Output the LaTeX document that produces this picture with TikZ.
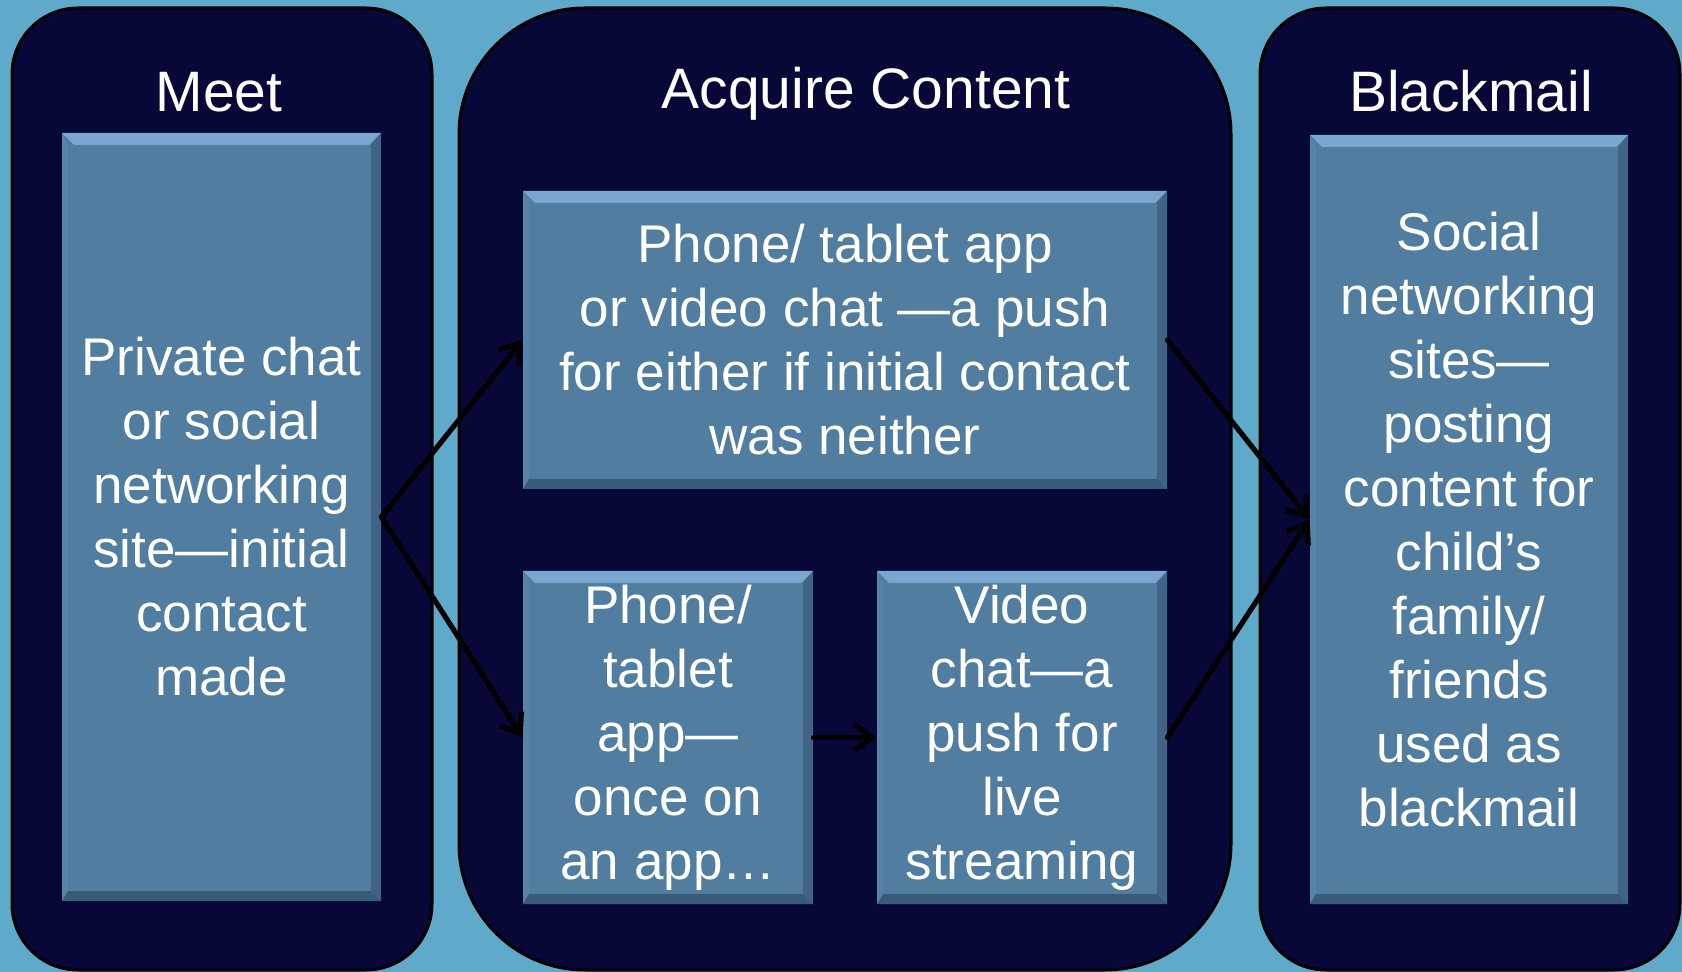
\documentclass[tikz,border=0pt]{standalone}
\usepackage{fontspec}
\setmainfont{Liberation Sans}
\usepackage{xcolor}
\usepackage{tikz}
\usetikzlibrary{arrows.meta}

\definecolor{skyback}{RGB}{95,170,202}
\definecolor{panelnavy}{RGB}{7,8,56}
\definecolor{cardblue}{RGB}{81,125,161}
\definecolor{cardlight}{RGB}{122,166,208}
\definecolor{carddark}{RGB}{58,90,122}

\newcommand{\headfont}{\fontsize{28.5}{34}\selectfont}
\newcommand{\cardfont}{\fontsize{26.5}{32}\selectfont}

\tikzstyle{panel} = [fill=panelnavy,draw=black,line width=1.5pt]
\tikzstyle{heading} = [text=white,font=\headfont,anchor=base]
\tikzstyle{card} = [rectangle,fill=cardblue,text=white,font=\cardfont,align=center,inner sep=0pt,
	path picture={
		\coordinate (nw) at (path picture bounding box.north west);
		\coordinate (ne) at (path picture bounding box.north east);
		\coordinate (sw) at (path picture bounding box.south west);
		\coordinate (se) at (path picture bounding box.south east);
		\fill[cardlight] (nw) -- (ne) -- ++(-6pt,-6pt) -- ([shift={(6pt,-6pt)}]nw) -- cycle;
		\fill[cardblue!85!cardlight] (nw) -- (sw) -- ++(3pt,3pt) -- ([shift={(3pt,-6pt)}]nw) -- cycle;
		\fill[carddark] (sw) -- (se) -- ++(-5pt,5pt) -- ([shift={(3pt,5pt)}]sw) -- cycle;
		\fill[carddark!70!cardblue] (ne) -- (se) -- ++(-5pt,5pt) -- ([shift={(-5pt,-6pt)}]ne) -- cycle;
	}]
\tikzstyle{arrow} = [line width=2.6pt,line cap=round,-{Straight Barb[length=9pt,width=13pt]}]

\begin{document}
\begin{tikzpicture}[x=0.5pt,y=-0.5pt]
	% Background:
	\useasboundingbox (0,0) rectangle (1682,972);
	\fill[skyback] (0,0) rectangle (1682,972);
	
	% Panels:
	% The three dark columns, the middle one is wider
	\node[panel,rounded corners=33pt,minimum width=210pt,minimum height=481pt] (meetpanel) at (222,489) {};
	\node[panel,rounded corners=63pt,minimum width=386pt,minimum height=481pt] (acquirepanel) at (845,489) {};
	\node[panel,rounded corners=33pt,minimum width=210pt,minimum height=481pt] (blackpanel) at (1470,489) {};
	
	\node[heading] (meettitle) at (219,112) {Meet};
	\node[heading] (acquiretitle) at (866,109) {Acquire Content};
	\node[heading] (blacktitle) at (1471,112) {Blackmail};
	
	% Cards:
	\node[card,minimum width=159.5pt,minimum height=384pt] (meetbox) at (221.5,517)
		{Private chat\\or social\\networking\\site—initial\\contact\\made};
	\node[card,minimum width=322pt,minimum height=149pt] (phonevideo) at (845,340)
		{Phone/ tablet app\\or video chat —a push\\for either if initial contact\\was neither};
	\node[card,minimum width=145pt,minimum height=166.5pt] (appbox) at (668,737.5)
		{Phone/\\tablet\\app—\\once on\\an app…};
	\node[card,minimum width=145pt,minimum height=166.5pt] (livebox) at (1022,737.5)
		{Video\\chat—a\\push for\\live\\streaming};
	\node[card,minimum width=159pt,minimum height=384.5pt] (blackbox) at (1469,519.5)
		{Social\\networking\\sites—\\posting\\content for\\child’s\\family/\\friends\\used as\\blackmail};
	
	% Arrows:
	\draw[arrow] (meetbox.east) -- (phonevideo.west);
	\draw[arrow] (meetbox.east) -- (appbox.west);
	\draw[arrow] (appbox.east) -- (livebox.west);
	\draw[arrow] (phonevideo.east) -- (blackbox.west);
	\draw[arrow] (livebox.east) -- (blackbox.west);
\end{tikzpicture}
\end{document}
